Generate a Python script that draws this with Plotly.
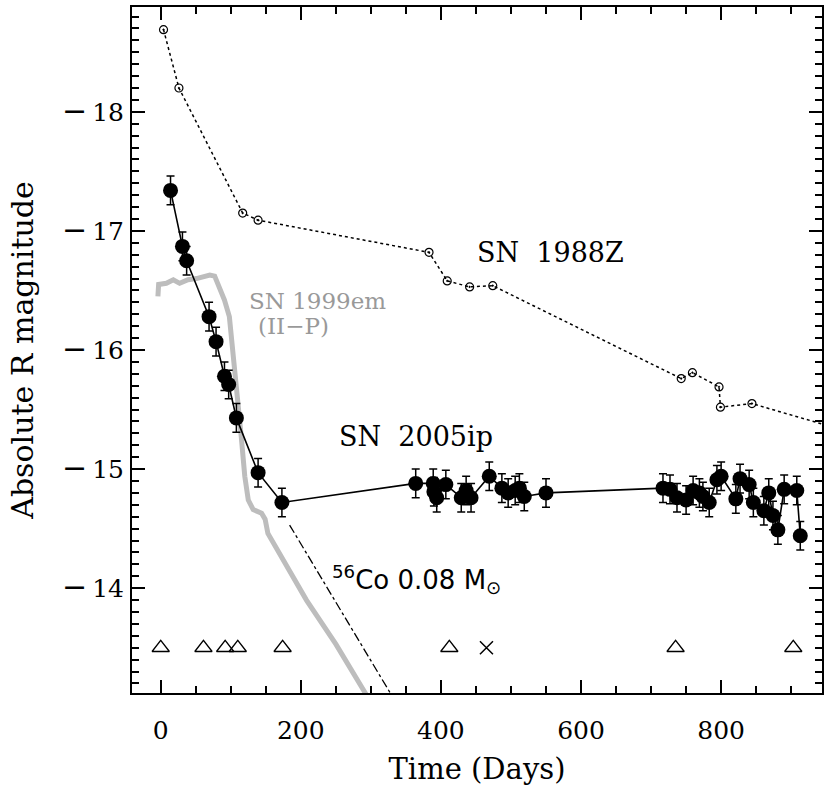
import plotly.graph_objects as go

# ---------------- data ----------------
# SN 2005ip (filled circles, solid line)
ip_day = [14, 31, 37, 69, 79, 91, 97, 108, 139, 173,
          364, 389, 390, 394, 407, 429, 436, 443, 469, 487, 496, 506, 512, 519, 550,
          717, 727, 737, 750, 760, 769, 774, 783, 794, 800, 821, 827, 840, 846,
          861, 868, 874, 881, 890, 908, 913]
ip_mag = [-17.34, -16.87, -16.75, -16.28, -16.07, -15.78, -15.71, -15.43, -14.97, -14.72,
          -14.88, -14.88, -14.81, -14.76, -14.87, -14.76, -14.82, -14.76, -14.94, -14.84,
          -14.80, -14.82, -14.84, -14.77, -14.80,
          -14.84, -14.83, -14.76, -14.74, -14.82, -14.80, -14.77, -14.72, -14.91, -14.94,
          -14.75, -14.92, -14.87, -14.72, -14.65, -14.80, -14.61, -14.49, -14.83, -14.82, -14.44]
ip_err = [0.12, 0.12, 0.12, 0.12, 0.12, 0.12, 0.12, 0.12, 0.12, 0.12,
          0.12, 0.12, 0.12, 0.12, 0.12, 0.12, 0.12, 0.12, 0.12, 0.12,
          0.12, 0.12, 0.12, 0.12, 0.12,
          0.12, 0.12, 0.12, 0.12, 0.12, 0.12, 0.12, 0.12, 0.12, 0.12,
          0.12, 0.12, 0.12, 0.12, 0.12, 0.12, 0.12, 0.12, 0.12, 0.12, 0.12]

# SN 1988Z (open circles, dotted line)
z_day = [4, 26, 117, 139, 383, 409, 441, 474, 743, 759, 797, 799, 844, 990]
z_mag = [-18.69, -18.20, -17.15, -17.09, -16.82, -16.58, -16.53, -16.54,
         -15.76, -15.81, -15.69, -15.52, -15.55, -15.30]

# SN 1999em (II-P) template (grey line)
em_day = [-4, -3, 8, 18, 27, 39, 51, 70, 77, 84, 91, 98, 101, 106, 110, 115, 120,
          125, 132, 144, 149, 153, 208, 250, 292, 330]
em_mag = [-16.45, -16.55, -16.56, -16.59, -16.56, -16.59, -16.60, -16.63, -16.62,
          -16.53, -16.42, -16.28, -16.11, -15.86, -15.58, -15.27, -14.94, -14.74,
          -14.66, -14.63, -14.58, -14.46, -13.90, -13.53, -13.12, -12.74]

# 56Co decay line (0.08 Msun)
co_day = [184, 345]
co_mag = [-14.53, -12.95]

# spectral epochs (triangles) and the cross
spec_day = [0, 61, 92, 110, 174, 412, 735, 903]
spec_mag = [-13.5, -13.5, -13.5, -13.5, -13.5, -13.5, -13.5, -13.5]
cross_day = [465]
cross_mag = [-13.5]

x_ticks = [0, 200, 400, 600, 800]
x_ticktext = ["0", "200", "400", "600", "800"]
y_ticks = [-18, -17, -16, -15, -14]
y_ticklabels = ["18", "17", "16", "15", "14"]
MINUS = "<span style='font-size:30px'>\u2212</span>\u2009"
y_ticktext = [MINUS + t for t in y_ticklabels]

X_RANGE = [-41, 944]
Y_RANGE = [-13.12, -18.88]

FONT = "DejaVu Serif"

fig = go.Figure()

fig.add_trace(go.Scatter(x=em_day, y=em_mag, mode="lines",
                         line=dict(color="#bdbdbd", width=5), hoverinfo="skip"))
fig.add_trace(go.Scatter(x=co_day, y=co_mag, mode="lines",
                         line=dict(color="black", width=1.3, dash="dashdot")))
fig.add_trace(go.Scatter(x=z_day, y=z_mag, mode="lines+markers",
                         line=dict(color="black", width=1.5, dash="dot"),
                         marker=dict(symbol="circle-open-dot", size=8, color="black",
                                     line=dict(width=1.2, color="black"))))
fig.add_trace(go.Scatter(x=ip_day, y=ip_mag, mode="lines+markers",
                         line=dict(color="black", width=1.6),
                         marker=dict(symbol="circle", size=15, color="black"),
                         error_y=dict(type="data", array=ip_err, visible=True,
                                      color="black", thickness=1.5, width=4)))
fig.add_trace(go.Scatter(x=spec_day, y=spec_mag, mode="markers",
                         marker=dict(symbol="triangle-up-open", size=15, color="black",
                                     line=dict(width=1.3, color="black"))))
fig.add_trace(go.Scatter(x=cross_day, y=cross_mag, mode="markers",
                         marker=dict(symbol="x-thin-open", size=13, color="black",
                                     line=dict(width=1.5, color="black"))))
# dummy traces to activate mirrored top/right axes
fig.add_trace(go.Scatter(x=[None], y=[None], xaxis="x2", yaxis="y", showlegend=False))
fig.add_trace(go.Scatter(x=[None], y=[None], xaxis="x", yaxis="y2", showlegend=False))

axis_common = dict(
    showgrid=False, zeroline=False, showline=True, linecolor="black", linewidth=2,
    mirror=False, ticks="inside", tickcolor="black", tickwidth=1.5, ticklen=13,
    tickfont=dict(family=FONT, size=25, color="black"), automargin=False,
)
xminor = dict(dtick=50, tick0=0, ticks="inside", ticklen=7, tickwidth=1.5, tickcolor="black")
yminor = dict(dtick=0.1, tick0=0, ticks="inside", ticklen=7, tickwidth=1.5, tickcolor="black")

fig.update_layout(
    xaxis=dict(**axis_common, range=X_RANGE, tickvals=x_ticks, ticktext=x_ticktext,
               minor=xminor, ticklabelstandoff=14,
               title=dict(text="Time (Days)", font=dict(family=FONT, size=29, color="black"),
                          standoff=15)),
    yaxis=dict(**axis_common, range=Y_RANGE, tickvals=y_ticks, ticktext=y_ticktext,
               minor=yminor, ticklabelstandoff=1,
               title=dict(text="Absolute R magnitude", font=dict(family=FONT, size=30, color="black"),
                          standoff=20)),
    xaxis2=dict(**axis_common, range=X_RANGE, tickvals=x_ticks, ticktext=x_ticktext,
                minor=xminor, overlaying="x", side="top", anchor="y", showticklabels=False),
    yaxis2=dict(**axis_common, range=Y_RANGE, tickvals=y_ticks, ticktext=y_ticktext,
                minor=yminor, overlaying="y", side="right", anchor="x", showticklabels=False),
)

ann = [
    dict(x=557, y=-16.82, text="SN\u00a0\u00a01988Z", font=dict(family=FONT, size=27, color="black")),
    dict(x=364, y=-15.27, text="SN\u00a0\u00a02005ip", font=dict(family=FONT, size=27, color="black")),
    dict(x=224, y=-16.41, text="SN 1999em", font=dict(family=FONT, size=23, color="#999999")),
    dict(x=190, y=-16.20, text="(II\u2212P)", font=dict(family=FONT, size=23, color="#999999")),
    dict(x=241, y=-14.07, xanchor="left",
         text="<sup>56</sup>Co 0.08 M<sub>\u2299</sub>",
         font=dict(family="DejaVu Sans", size=26, color="black")),
]
for a in ann:
    a.setdefault("xanchor", "center")
    fig.add_annotation(xref="x", yref="y", showarrow=False, yanchor="middle", **a)

fig.update_layout(width=830, height=789, showlegend=False,
                  margin=dict(l=132, r=8, t=7, b=96),
                  paper_bgcolor="white", plot_bgcolor="white",
                  font=dict(family=FONT, color="black"))

fig.write_html("out.html", config={"displayModeBar": False},
               post_script="document.body.style.margin='0px';"
                           "document.body.style.overflow='hidden';")
